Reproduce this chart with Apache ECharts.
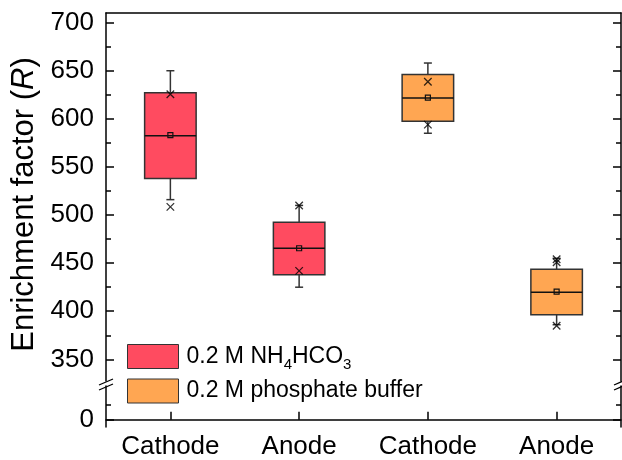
<!DOCTYPE html>
<html>
<head>
<meta charset="utf-8">
<script src="https://cdn.jsdelivr.net/npm/echarts@6/dist/echarts.min.js"></script>
<style>
	html, body { margin: 0; padding: 0; background: #fff; }
	#chart { width: 622px; height: 460px; }
</style>
</head>
<body>
<div id="chart"></div>
<script>
var categories = ["Cathode", "Anode", "Cathode", "Anode"];
var seriesNames = ["0.2 M NH\u2084HCO\u2083", "0.2 M phosphate buffer"];
var seriesColors = ["#FF4B60", "#FFA652"];

// box stats: [min, Q1, median, Q3, max]
var nh4Cats = [0, 1];
var nh4Stats = [[516, 538, 582.5, 627, 650], [425, 438, 465.5, 492.5, 510]];
var nh4Means = [583, 465.5];
var nh4Marks = [[508.5, 625.5], [442, 510]];

var phosCats = [2, 3];
var phosStats = [[585, 597.5, 621.6, 646, 658], [386, 396.3, 419.8, 443.7, 455]];
var phosMeans = [622, 420.5];
var phosMarks = [[594, 638.5], [385, 451, 454]];

var upperMajor = [350, 400, 450, 500, 550, 600, 650, 700];
var upperMinor = [375, 425, 475, 525, 575, 625, 675];
var lowerMajor = [0];
var lowerMinor = [10];

var fontFam = "'Liberation Sans', Arial, sans-serif";
var axisColor = "#000";

function boxData(cats, stats, means) {
	var out = [];
	for (var i = 0; i < cats.length; i++) {
		out.push([cats[i]].concat(stats[i]).concat([means[i]]));
	}
	return out;
}

function markData(cats, marks) {
	var out = [];
	for (var i = 0; i < cats.length; i++) {
		for (var v of marks[i]) {
			out.push([cats[i], v]);
		}
	}
	return out;
}

function renderBox(params, api) {
	var c = api.value(0);
	var p = function(v) { return api.coord([c, v]); };
	var bw = api.size([1, 0])[0] * 0.4;
	var half = bw / 2;
	var pMin = p(api.value(1));
	var pQ1 = p(api.value(2));
	var pMed = p(api.value(3));
	var pQ3 = p(api.value(4));
	var pMax = p(api.value(5));
	var pMean = p(api.value(6));
	var x = pMed[0];
	var ls = { stroke: "#333", lineWidth: 1.5 };
	return {
		type: "group",
		children: [
			{ type: "line", shape: { x1: x, y1: pQ3[1], x2: x, y2: pMax[1] }, style: ls },
			{ type: "line", shape: { x1: x, y1: pQ1[1], x2: x, y2: pMin[1] }, style: ls },
			{ type: "line", shape: { x1: x - 4, y1: pMax[1], x2: x + 4, y2: pMax[1] }, style: ls },
			{ type: "line", shape: { x1: x - 4, y1: pMin[1], x2: x + 4, y2: pMin[1] }, style: ls },
			{ type: "rect", shape: { x: x - half, y: pQ3[1], width: bw, height: pQ1[1] - pQ3[1] },
				style: { fill: api.visual("color"), stroke: "#333", lineWidth: 1.5 } },
			{ type: "line", shape: { x1: x - half, y1: pMed[1], x2: x + half, y2: pMed[1] },
				style: { stroke: "#111", lineWidth: 1.5 } },
			{ type: "rect", shape: { x: x - 2.5, y: pMean[1] - 2.5, width: 5, height: 5 },
				style: { fill: "none", stroke: "#111", lineWidth: 1.2 } }
		]
	};
}

function valueAxis(grid, pos, min, max, ticks, len, opts) {
	var ax = {
		type: "value",
		gridIndex: grid,
		position: pos,
		min: min,
		max: max,
		splitLine: { show: false },
		axisLine: { show: opts.line, lineStyle: { color: axisColor, width: 1.5 } },
		axisTick: { show: true, inside: true, length: len, customValues: ticks,
			lineStyle: { color: axisColor, width: 1.5 } },
		axisLabel: { show: false }
	};
	if (opts.labels) {
		ax.axisLabel = { show: true, customValues: ticks, margin: 12, color: "#000",
			fontSize: 26, fontFamily: fontFam };
	}
	return ax;
}

var chart = echarts.init(document.getElementById("chart"));

var option = {
	animation: false,
	backgroundColor: "#fff",
	grid: [
		{ left: 106, right: 1, top: 13, height: 368 },
		{ left: 106, right: 1, top: 386, height: 42 }
	],
	xAxis: [
		{
			type: "category", gridIndex: 0, position: "top", data: categories,
			axisLine: { show: true, lineStyle: { color: axisColor, width: 1.5 } },
			axisTick: { show: false }, axisLabel: { show: false }
		},
		{
			type: "category", gridIndex: 1, position: "bottom", data: categories,
			axisLine: { show: true, lineStyle: { color: axisColor, width: 1.5 } },
			axisTick: { show: true, inside: true, length: 8, alignWithLabel: true,
				lineStyle: { color: axisColor, width: 1.5 } },
			axisLabel: { color: "#000", fontSize: 26, fontFamily: fontFam, margin: 7 }
		}
	],
	yAxis: [
		Object.assign(valueAxis(0, "left", 327.5, 710, upperMajor, 8, { line: true, labels: true }), {
			name: "{n|Enrichment factor (}{i|R}{n|)}",
			nameLocation: "middle",
			nameGap: 66,
			nameTextStyle: {
				padding: [0, 15, 0, 0],
				rich: {
					n: { fontSize: 31, fontFamily: fontFam, color: "#000" },
					i: { fontSize: 31, fontFamily: fontFam, color: "#000", fontStyle: "italic" }
				}
			}
		}),
		valueAxis(0, "left", 327.5, 710, upperMinor, 5, { line: false }),
		valueAxis(0, "right", 327.5, 710, upperMajor, 8, { line: true }),
		valueAxis(0, "right", 327.5, 710, upperMinor, 5, { line: false }),
		valueAxis(1, "left", -4.8, 22.8, lowerMajor, 8, { line: true, labels: true }),
		valueAxis(1, "left", -4.8, 22.8, lowerMinor, 5, { line: false }),
		valueAxis(1, "right", -4.8, 22.8, lowerMajor, 8, { line: true }),
		valueAxis(1, "right", -4.8, 22.8, lowerMinor, 5, { line: false })
	],
	legend: {
		orient: "vertical",
		left: 127,
		top: 344,
		padding: 0,
		itemWidth: 51,
		itemHeight: 24,
		itemGap: 6,
		icon: "rect",
		data: seriesNames,
		itemStyle: { borderColor: "#333", borderWidth: 1 },
		textStyle: { fontSize: 23, fontFamily: fontFam, color: "#000", padding: [0, 0, 0, 3],
			rich: {
				t: { fontSize: 23, fontFamily: fontFam, color: "#000", lineHeight: 32 },
				s: { fontSize: 15, fontFamily: fontFam, color: "#000", lineHeight: 15, verticalAlign: "bottom" }
			}
		},
		formatter: function(name) {
			if (name === seriesNames[0]) {
				return "{t|0.2 M NH}{s|4}{t|HCO}{s|3}";
			}
			return name;
		},
		selectedMode: false
	},
	graphic: [
		{ type: "line", shape: { x1: 99, y1: 385, x2: 113, y2: 379 }, style: { stroke: "#000", lineWidth: 1.3 } },
		{ type: "line", shape: { x1: 99, y1: 390, x2: 113, y2: 384 }, style: { stroke: "#000", lineWidth: 1.3 } },
		{ type: "line", shape: { x1: 614, y1: 385, x2: 628, y2: 379 }, style: { stroke: "#000", lineWidth: 1.3 } },
		{ type: "line", shape: { x1: 614, y1: 390, x2: 628, y2: 384 }, style: { stroke: "#000", lineWidth: 1.3 } }
	],
	series: [
		{
			name: seriesNames[0], type: "custom", xAxisIndex: 0, yAxisIndex: 0,
			itemStyle: { color: seriesColors[0] },
			renderItem: renderBox, data: boxData(nh4Cats, nh4Stats, nh4Means), silent: true
		},
		{
			name: seriesNames[1], type: "custom", xAxisIndex: 0, yAxisIndex: 0,
			itemStyle: { color: seriesColors[1] },
			renderItem: renderBox, data: boxData(phosCats, phosStats, phosMeans), silent: true
		},
		{
			name: "marks1", type: "scatter", xAxisIndex: 0, yAxisIndex: 0, z: 5,
			symbol: "path://M0,0L10,10M10,0L0,10", symbolSize: 7.5, silent: true,
			itemStyle: { color: "none", borderColor: "#000", borderWidth: 1.3 },
			data: markData(nh4Cats, nh4Marks)
		},
		{
			name: "marks2", type: "scatter", xAxisIndex: 0, yAxisIndex: 0, z: 5,
			symbol: "path://M0,0L10,10M10,0L0,10", symbolSize: 7.5, silent: true,
			itemStyle: { color: "none", borderColor: "#000", borderWidth: 1.3 },
			data: markData(phosCats, phosMarks)
		}
	]
};

chart.setOption(option);
</script>
</body>
</html>
